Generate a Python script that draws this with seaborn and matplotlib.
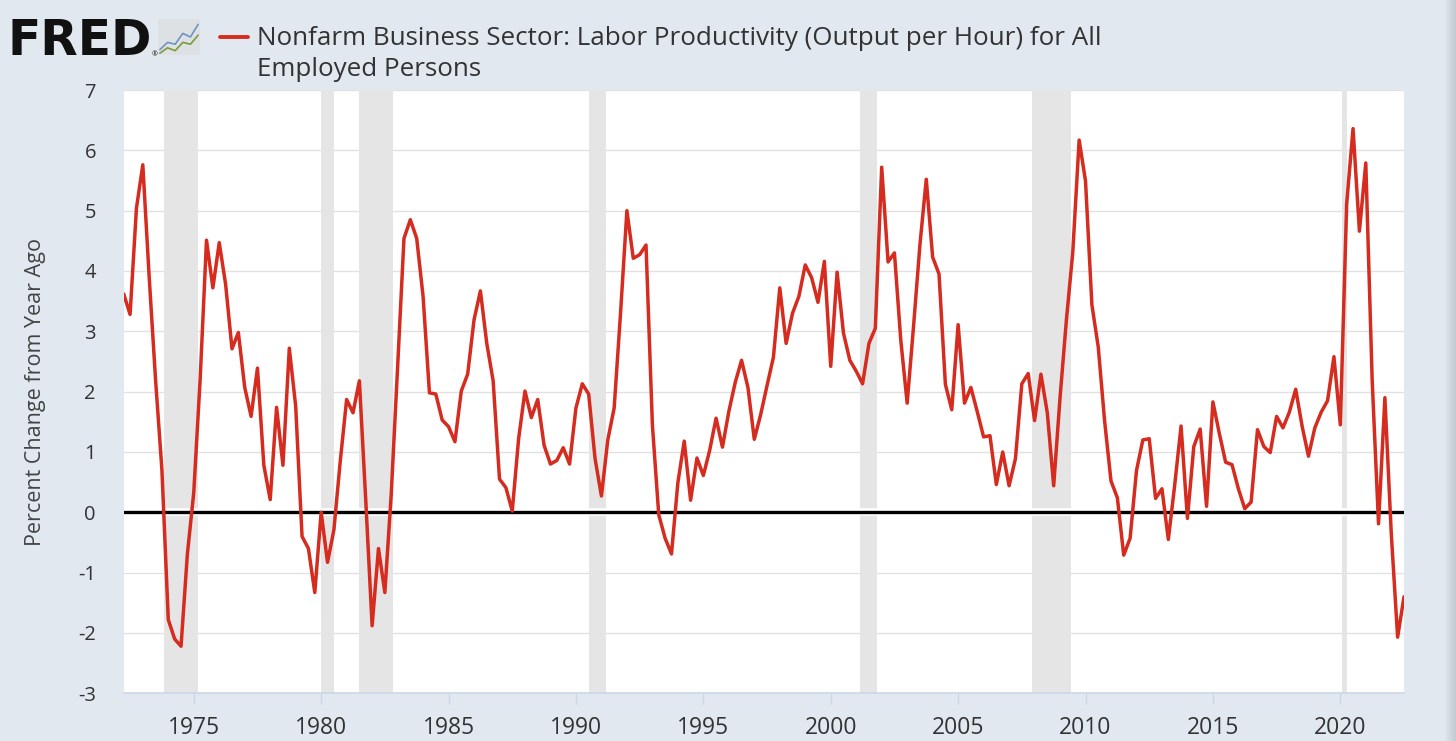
import numpy as np
import pandas as pd
import matplotlib
matplotlib.use('Agg')
import matplotlib.pyplot as plt
from matplotlib.lines import Line2D
import seaborn as sns

# ─── DATA ─────────────────────────────────────────────────────
# Nonfarm business labor productivity, percent change from year ago, 1972Q2-2022Q3
quarters = pd.period_range('1972Q2', '2022Q3', freq='Q')
productivity = [
    3.62, 3.28, 5.04, 5.76, 3.9, 2.2, 0.7, -1.78, -2.1, -2.22,
    -0.69, 0.33, 2.2, 4.51, 3.72, 4.47, 3.78, 2.71, 2.98, 2.07,
    1.59, 2.39, 0.78, 0.21, 1.74, 0.78, 2.72, 1.76, -0.40, -0.6,
    -1.33, 0.0, -0.83, -0.29, 0.85, 1.87, 1.65, 2.18, 0.2, -1.88,
    -0.6, -1.33, 0.3, 2.4, 4.54, 4.85, 4.54, 3.58, 1.98, 1.96,
    1.53, 1.42, 1.17, 2.01, 2.29, 3.19, 3.67, 2.8, 2.18, 0.55,
    0.41, 0.02, 1.22, 2.01, 1.57, 1.87, 1.11, 0.8, 0.86, 1.07,
    0.8, 1.73, 2.13, 1.96, 0.89, 0.27, 1.2, 1.73, 3.3, 5.0,
    4.21, 4.27, 4.43, 1.45, -0.04, -0.43, -0.69, 0.49, 1.18, 0.2,
    0.9, 0.61, 1.03, 1.56, 1.08, 1.67, 2.15, 2.52, 2.07, 1.21,
    1.62, 2.1, 2.57, 3.72, 2.8, 3.3, 3.58, 4.1, 3.89, 3.48,
    4.16, 2.42, 3.98, 2.97, 2.52, 2.34, 2.13, 2.8, 3.05, 5.72,
    4.15, 4.3, 2.85, 1.81, 3.08, 4.43, 5.52, 4.23, 3.95, 2.12,
    1.7, 3.11, 1.81, 2.07, 1.67, 1.25, 1.27, 0.46, 1.0, 0.44,
    0.89, 2.13, 2.3, 1.52, 2.29, 1.65, 0.44, 1.9, 3.19, 4.31,
    6.17, 5.49, 3.44, 2.74, 1.51, 0.52, 0.24, -0.71, -0.43, 0.69,
    1.2, 1.22, 0.23, 0.39, -0.45, 0.45, 1.43, -0.1, 1.09, 1.38,
    0.1, 1.83, 1.31, 0.83, 0.79, 0.39, 0.06, 0.17, 1.37, 1.09,
    0.99, 1.59, 1.4, 1.66, 2.04, 1.43, 0.93, 1.4, 1.66, 1.85,
    2.58, 1.45, 5.11, 6.36, 4.66, 5.79, 2.2, -0.19, 1.9, -0.35,
    -2.07, -1.4,
]

# NBER recessions (decimal years)
recession_start = [1973.833, 1980.0, 1981.5, 1990.5, 2001.167, 2007.917, 2020.083]
recession_end = [1975.167, 1980.5, 1982.833, 1991.167, 2001.833, 2009.417, 2020.25]

x_ticks = [1975, 1980, 1985, 1990, 1995, 2000, 2005, 2010, 2015, 2020]
y_ticks = [-3, -2, -1, 0, 1, 2, 3, 4, 5, 6, 7]

title_lines = ['Nonfarm Business Sector: Labor Productivity (Output per Hour) for All',
               'Employed Persons']
y_label = 'Percent Change from Year Ago'

# icon decoration
icon_blue = [0.15, 0.35, 0.3, 0.6, 0.5, 0.85]
icon_green = [0.05, 0.2, 0.12, 0.35, 0.3, 0.55]

# ─── STYLE ────────────────────────────────────────────────────
BG = '#e1e8ef'
RED = '#d62b1f'
TXT = '#333333'
W, H = 1456, 741

sns.set_theme(style='white')
plt.rcParams['font.family'] = ['Open Sans', 'DejaVu Sans']

df = pd.DataFrame({
    'year': quarters.year + (quarters.quarter - 1) / 4.0,
    'value': productivity,
})

fig = plt.figure(figsize=(W / 100, H / 100), dpi=100, facecolor=BG)
left, right, top, bottom = 123.7, 1404, 90, 693.3
ax = fig.add_axes([left / W, 1 - bottom / H, (right - left) / W, (bottom - top) / H])
ax.set_facecolor('white')

# gridlines
for yv in y_ticks:
    ax.axhline(yv, color='#e1e1e1', linewidth=1.0, zorder=0.5)

# recession shading
for s, e in zip(recession_start, recession_end):
    ax.axvspan(s, e, color='#e5e5e5', linewidth=0, zorder=1)

# zero line with white halo
ax.axhline(0, color='white', linewidth=5.5, zorder=2)
ax.axhline(0, color='black', linewidth=2.4, zorder=3)

sns.lineplot(data=df, x='year', y='value', color=RED, linewidth=2.5,
             ax=ax, zorder=4)

ax.set_xlim(df['year'].min(), df['year'].max())
ax.set_ylim(-3, 7)
ax.set_xticks(x_ticks)
ax.set_yticks(y_ticks)
ax.set_yticklabels([str(v) for v in y_ticks])
ax.tick_params(axis='y', length=0, pad=20, labelsize=14.5, labelcolor=TXT)
ax.tick_params(axis='x', length=8, width=1, color='#ccd6eb', pad=8,
               labelsize=16.5, labelcolor=TXT, bottom=True)
ax.set_xlabel('')
ax.set_ylabel(y_label, fontsize=15.5, color='#444444')
ax.yaxis.set_label_coords(-0.0607, 0.5)

for side in ['top', 'right', 'left']:
    ax.spines[side].set_visible(False)
ax.spines['bottom'].set_color('#ccd6eb')
ax.spines['bottom'].set_linewidth(1.2)

# ─── HEADER ───────────────────────────────────────────────────
fig.text(8 / W, 1 - 55 / H, 'FRED', fontsize=35, fontweight='heavy',
         family='DejaVu Sans', color='#111111', va='baseline')
fig.text(152 / W, 1 - 56 / H, '®', fontsize=5, color='#111111', va='baseline')

icon = fig.add_axes([158 / W, 1 - 55 / H, 42 / W, 36 / H])
icon.set_facecolor('#dde1e4')
icon.plot(np.linspace(0, 1, len(icon_blue)), icon_blue, color='#6f93c2', lw=1.2)
icon.plot(np.linspace(0, 1, len(icon_green)), icon_green, color='#7d9a3c', lw=1.2)
icon.set_xlim(-0.05, 1.05)
icon.set_ylim(0, 1)
icon.set_xticks([])
icon.set_yticks([])
for sp in icon.spines.values():
    sp.set_visible(False)

fig.add_artist(Line2D([220 / W, 248 / W], [1 - 37 / H, 1 - 37 / H],
                      transform=fig.transFigure, color=RED, linewidth=2.8))
fig.text(257 / W, 1 - 45 / H, title_lines[0], fontsize=18.7, color=TXT, va='baseline')
fig.text(257 / W, 1 - 76 / H, title_lines[1], fontsize=18.7, color=TXT, va='baseline')

# right edge shadow strip
strip = fig.add_axes([1444 / W, 0, 12 / W, 1])
strip.imshow(np.linspace(0, 1, 12).reshape(1, -1), aspect='auto',
             cmap=matplotlib.colors.LinearSegmentedColormap.from_list('s', [BG, '#c4cad1']))
strip.axis('off')

fig.savefig('out.png', dpi=100, facecolor=BG)
plt.close()
